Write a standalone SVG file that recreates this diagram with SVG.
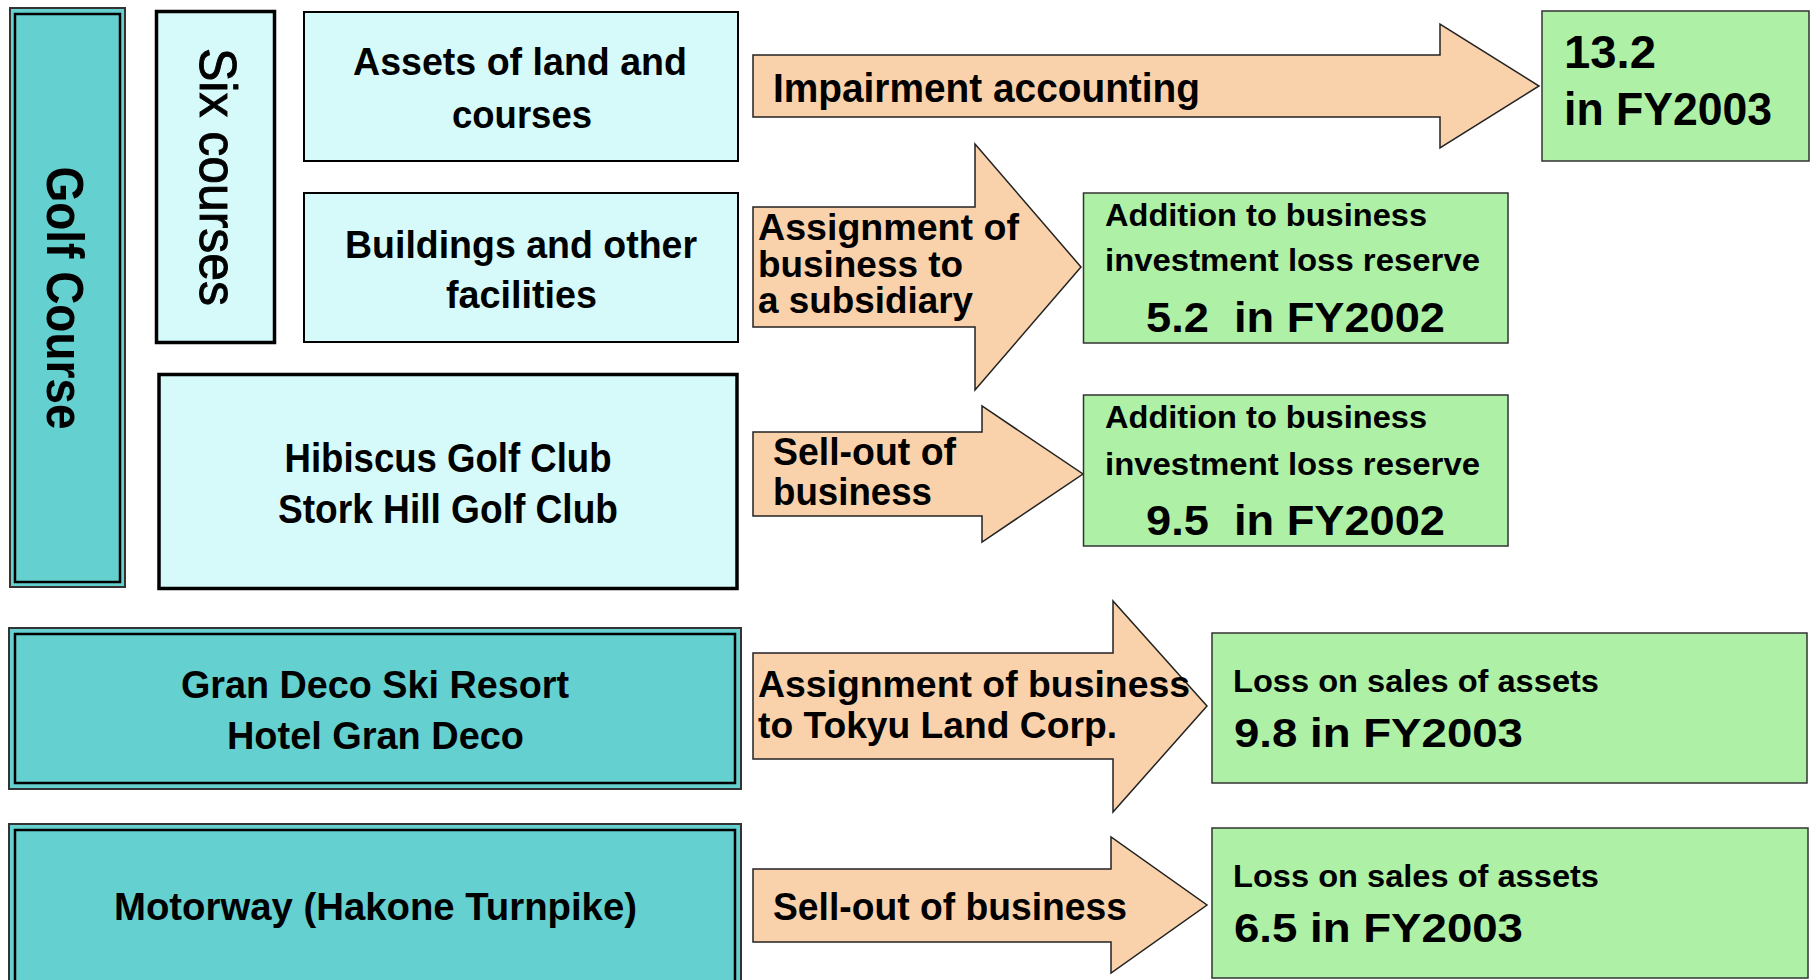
<svg xmlns="http://www.w3.org/2000/svg" width="1810" height="980" viewBox="0 0 1810 980">
  <style>
    .t { font-family: "Liberation Sans", Arial, sans-serif; font-weight: bold; fill: #000; }
    .reg { font-weight: normal; stroke: #000; stroke-width: 0.9; }
    .pre { white-space: pre; }
    .teal { fill: #64d0cf; }
    .cyan { fill: #d6fafa; stroke: #000; }
    .green { fill: #aef0a6; stroke: #333; stroke-width: 1.5; }
    .arrow { fill: #f9d2ac; stroke: #222; stroke-width: 1.5; stroke-linejoin: miter; }
  </style>

  <rect width="1810" height="980" fill="#fff"/>

  <!-- Golf course group (double frame, vertical label) -->
  <g id="golf-course">
    <rect class="teal" x="10" y="8" width="115" height="579" stroke="#333" stroke-width="2"/>
    <rect class="teal" x="15" y="14" width="105" height="568" stroke="#000" stroke-width="2.5"/>
    <text class="t" font-size="52" text-anchor="middle" textLength="263" lengthAdjust="spacingAndGlyphs" transform="translate(47,298) rotate(90)">Golf Course</text>
  </g>

  <g id="six-courses">
    <rect class="cyan" x="156.5" y="11.5" width="118" height="331" stroke-width="3.5"/>
    <text class="t reg" font-size="52" text-anchor="middle" textLength="258" lengthAdjust="spacingAndGlyphs" transform="translate(200,177) rotate(90)">Six courses</text>
  </g>

  <g id="land-assets">
    <rect class="cyan" x="304" y="12" width="434" height="149" stroke-width="2"/>
    <text class="t" font-size="39" x="520" y="75" text-anchor="middle" textLength="334" lengthAdjust="spacingAndGlyphs">Assets of land and</text>
    <text class="t" font-size="39" x="522" y="128" text-anchor="middle" textLength="140" lengthAdjust="spacingAndGlyphs">courses</text>
  </g>

  <g id="buildings">
    <rect class="cyan" x="304" y="193" width="434" height="149" stroke-width="2"/>
    <text class="t" font-size="39" x="521" y="258" text-anchor="middle" textLength="352" lengthAdjust="spacingAndGlyphs">Buildings and other</text>
    <text class="t" font-size="39" x="521.5" y="308" text-anchor="middle" textLength="151" lengthAdjust="spacingAndGlyphs">facilities</text>
  </g>

  <g id="golf-clubs">
    <rect class="cyan" x="159" y="374.5" width="578" height="214" stroke-width="3.5"/>
    <text class="t" font-size="40" x="448" y="472" text-anchor="middle" textLength="327" lengthAdjust="spacingAndGlyphs">Hibiscus Golf Club</text>
    <text class="t" font-size="40" x="448" y="523" text-anchor="middle" textLength="340" lengthAdjust="spacingAndGlyphs">Stork Hill Golf Club</text>
  </g>

  <g id="gran-deco">
    <rect class="teal" x="9" y="628" width="732" height="161" stroke="#333" stroke-width="2"/>
    <rect class="teal" x="15" y="634" width="720" height="149" stroke="#000" stroke-width="2.5"/>
    <text class="t" font-size="39" x="375" y="698" text-anchor="middle" textLength="388" lengthAdjust="spacingAndGlyphs">Gran Deco Ski Resort</text>
    <text class="t" font-size="39" x="375.5" y="749" text-anchor="middle" textLength="297" lengthAdjust="spacingAndGlyphs">Hotel Gran Deco</text>
  </g>

  <g id="motorway">
    <rect class="teal" x="9" y="824" width="732" height="200" stroke="#333" stroke-width="2"/>
    <rect class="teal" x="15" y="830" width="720" height="200" stroke="#000" stroke-width="2.5"/>
    <text class="t" font-size="38" x="375.5" y="920" text-anchor="middle" textLength="523" lengthAdjust="spacingAndGlyphs">Motorway (Hakone Turnpike)</text>
  </g>

  <!-- Block arrows carrying the treatment labels -->
  <g id="connectors">
    <g id="arrow-impairment">
      <polygon class="arrow" points="753,55 1440,55 1440,24 1539,86 1440,148 1440,117 753,117"/>
      <text class="t" font-size="40" x="773" y="102" textLength="427" lengthAdjust="spacingAndGlyphs">Impairment accounting</text>
    </g>
    <g id="arrow-subsidiary">
      <polygon class="arrow" points="753,207 975,207 975,144 1081,267 975,390 975,327 753,327"/>
      <text class="t" font-size="37" x="758" y="240" textLength="261" lengthAdjust="spacingAndGlyphs">Assignment of</text>
      <text class="t" font-size="37" x="758" y="277" textLength="205" lengthAdjust="spacingAndGlyphs">business to</text>
      <text class="t" font-size="37" x="758" y="313" textLength="215" lengthAdjust="spacingAndGlyphs">a subsidiary</text>
    </g>
    <g id="arrow-sellout-golf">
      <polygon class="arrow" points="753,432 982,432 982,406 1083,474 982,542 982,516 753,516"/>
      <text class="t" font-size="39" x="773" y="465" textLength="183" lengthAdjust="spacingAndGlyphs">Sell-out of</text>
      <text class="t" font-size="39" x="773" y="505" textLength="159" lengthAdjust="spacingAndGlyphs">business</text>
    </g>
    <g id="arrow-tokyu">
      <polygon class="arrow" points="753,653 1113,653 1113,601 1207,706 1113,812 1113,759 753,759"/>
      <text class="t" font-size="37" x="758" y="697" textLength="432" lengthAdjust="spacingAndGlyphs">Assignment of business</text>
      <text class="t" font-size="37" x="758" y="738" textLength="359" lengthAdjust="spacingAndGlyphs">to Tokyu Land Corp.</text>
    </g>
    <g id="arrow-sellout-motorway">
      <polygon class="arrow" points="753,869 1111,869 1111,837 1207,905 1111,973 1111,942 753,942"/>
      <text class="t" font-size="38" x="773" y="920" textLength="354" lengthAdjust="spacingAndGlyphs">Sell-out of business</text>
    </g>
  </g>

  <!-- Result boxes -->
  <g id="result-impairment">
    <rect class="green" x="1542" y="11" width="267" height="150"/>
    <text class="t" font-size="46" x="1564" y="68" textLength="92" lengthAdjust="spacingAndGlyphs">13.2</text>
    <text class="t" font-size="46" x="1564" y="125" textLength="208" lengthAdjust="spacingAndGlyphs">in FY2003</text>
  </g>

  <g id="result-reserve-1">
    <rect class="green" x="1083.5" y="193" width="424.5" height="150"/>
    <text class="t" font-size="31" x="1105" y="226" textLength="322" lengthAdjust="spacingAndGlyphs">Addition to business</text>
    <text class="t" font-size="31" x="1105" y="271" textLength="375" lengthAdjust="spacingAndGlyphs">investment loss reserve</text>
    <text class="t pre" font-size="42" x="1146" y="332" textLength="299" lengthAdjust="spacingAndGlyphs">5.2  in FY2002</text>
  </g>

  <g id="result-reserve-2">
    <rect class="green" x="1083.5" y="395" width="424.5" height="151"/>
    <text class="t" font-size="31" x="1105" y="428" textLength="322" lengthAdjust="spacingAndGlyphs">Addition to business</text>
    <text class="t" font-size="31" x="1105" y="475" textLength="375" lengthAdjust="spacingAndGlyphs">investment loss reserve</text>
    <text class="t pre" font-size="42" x="1146" y="535" textLength="299" lengthAdjust="spacingAndGlyphs">9.5  in FY2002</text>
  </g>

  <g id="result-sale-1">
    <rect class="green" x="1212" y="633" width="595" height="150"/>
    <text class="t" font-size="31" x="1233" y="692" textLength="366" lengthAdjust="spacingAndGlyphs">Loss on sales of assets</text>
    <text class="t" font-size="41" x="1234" y="747" textLength="289" lengthAdjust="spacingAndGlyphs">9.8 in FY2003</text>
  </g>

  <g id="result-sale-2">
    <rect class="green" x="1212" y="828" width="596" height="150"/>
    <text class="t" font-size="31" x="1233" y="887" textLength="366" lengthAdjust="spacingAndGlyphs">Loss on sales of assets</text>
    <text class="t" font-size="41" x="1234" y="942" textLength="289" lengthAdjust="spacingAndGlyphs">6.5 in FY2003</text>
  </g>
</svg>
